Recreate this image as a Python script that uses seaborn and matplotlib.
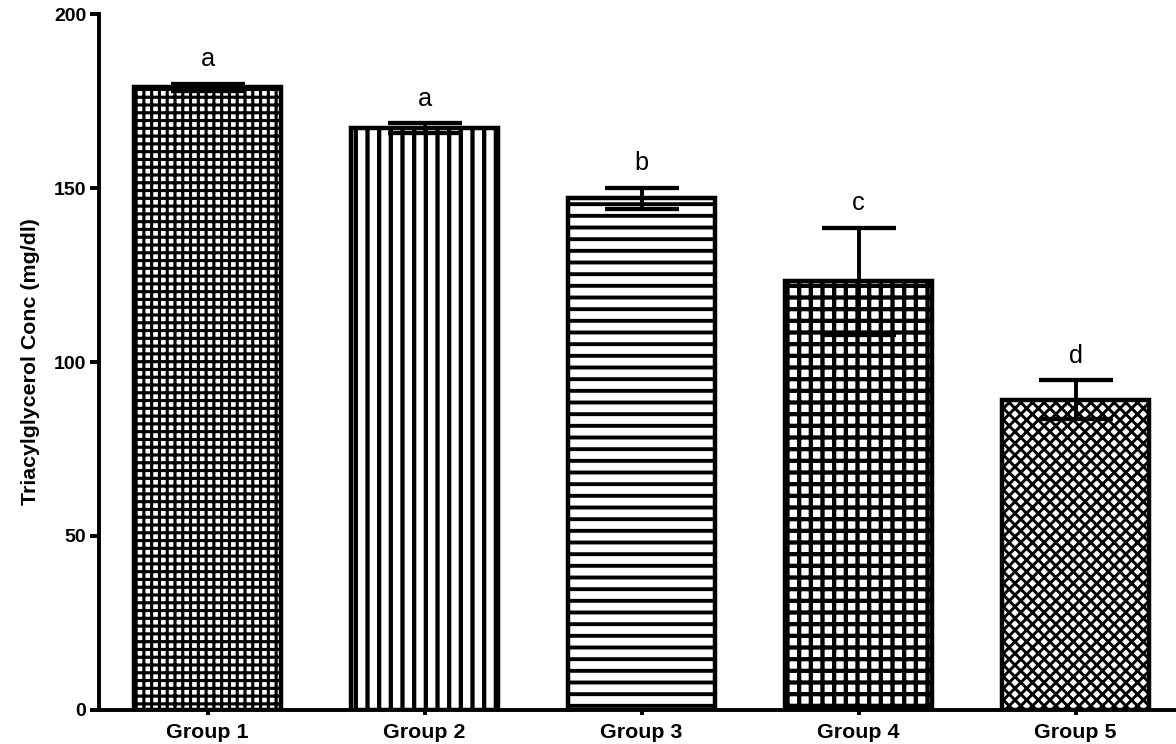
import matplotlib
matplotlib.use("Agg")
import matplotlib.pyplot as plt
import seaborn as sns
import pandas as pd
import numpy as np

groups = ["Group 1", "Group 2", "Group 3", "Group 4", "Group 5"]
means = [179.0, 167.2, 147.0, 123.2, 89.2]
sems = [1.0, 1.5, 3.1, 15.4, 5.5]
letters = ["a", "a", "b", "c", "d"]
hatches = ["+++", "||", "--", "++", "xxxx"]
hatch_lw = [1.6, 2.2, 2.0, 2.2, 1.5]
yticks = [0, 50, 100, 150, 200]
ylabel = "Triacylglycerol Conc (mg/dl)"

sns.set_style("ticks")
plt.rcParams["font.family"] = ["Liberation Sans", "DejaVu Sans"]
plt.rcParams["hatch.linewidth"] = 2.0
for k in ["text.color", "axes.labelcolor", "xtick.color", "ytick.color",
          "axes.edgecolor"]:
    plt.rcParams[k] = "black"

DPI = 140
fig = plt.figure(figsize=(1176 / DPI, 744 / DPI), dpi=DPI)
ax = fig.add_axes([99 / 1176, 34 / 744, 1085 / 1176, 696 / 744])

df = pd.DataFrame({"group": groups, "mean": means})
sns.barplot(data=df, x="group", y="mean", order=groups, color="white",
            edgecolor="black", linewidth=2.3, width=0.68, errorbar=None, ax=ax)

for patch, h, hl in zip(ax.patches, hatches, hatch_lw):
    patch.set_hatch(h)
    patch.set_facecolor("white")
    patch.set_edgecolor("black")
    try:
        patch.set_hatch_linewidth(hl)
    except Exception:
        pass

xpos = np.arange(len(groups))
ax.errorbar(xpos, means, yerr=sems, fmt="none", ecolor="black",
            elinewidth=2.0, capsize=19, capthick=2.2, zorder=5)

for x, m, s, t in zip(xpos, means, sems, letters):
    ax.text(x, m + s + 7.0, t, ha="center", va="center", fontsize=13,
            color="black")

ax.set_xlim(-0.5, 4.5)
ax.set_ylim(0, 200)
ax.set_yticks(yticks)
ax.set_yticklabels([str(v) for v in yticks], fontsize=10, fontweight="bold")
ax.set_xticks(xpos)
ax.set_xticklabels(groups, fontsize=11, fontweight="bold")
ax.set_xlabel("")
ax.set_ylabel(ylabel, fontsize=11, fontweight="bold", labelpad=7)

sns.despine(ax=ax)
for sp in ["left", "bottom"]:
    ax.spines[sp].set_linewidth(2.0)
    ax.spines[sp].set_color("black")
ax.tick_params(axis="y", length=4.5, width=2.0, pad=2, colors="black")
ax.tick_params(axis="x", length=2.5, width=2.0, pad=4, colors="black")

fig.savefig("out.png", dpi=DPI)
